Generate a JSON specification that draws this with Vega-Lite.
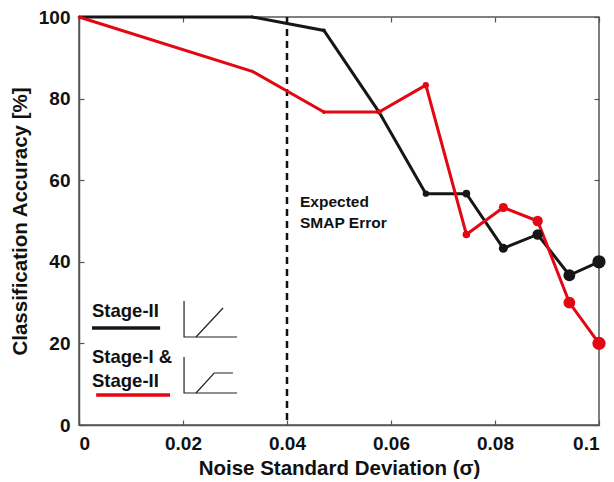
{
  "$schema": "https://vega.github.io/schema/vega-lite/v6.json",
  "width": 520,
  "height": 408,
  "autosize": {"type": "none"},
  "padding": {"left": 79, "top": 17, "right": 15, "bottom": 57},
  "background": "white",
  "config": {
    "view": {"stroke": "#555555", "strokeWidth": 1.5},
    "font": "Liberation Sans",
    "axis": {
      "labelFont": "Liberation Sans",
      "labelFontWeight": "bold",
      "labelFontSize": 19,
      "labelColor": "#111111",
      "titleFont": "Liberation Sans",
      "titleFontWeight": "bold",
      "titleFontSize": 20.5,
      "titleColor": "#111111",
      "domainColor": "#555555",
      "domainWidth": 1.5,
      "tickColor": "#555555",
      "tickWidth": 1.2,
      "tickSize": -5,
      "grid": false
    }
  },
  "datasets": {
    "series": [
      {"sigma": 0, "acc": 100, "series": "Stage-II"},
      {"sigma": 0.0333, "acc": 100, "series": "Stage-II"},
      {"sigma": 0.0471, "acc": 96.7, "series": "Stage-II"},
      {"sigma": 0.0577, "acc": 76.7, "series": "Stage-II"},
      {"sigma": 0.0667, "acc": 56.7, "series": "Stage-II"},
      {"sigma": 0.0745, "acc": 56.7, "series": "Stage-II"},
      {"sigma": 0.0816, "acc": 43.3, "series": "Stage-II"},
      {"sigma": 0.0882, "acc": 46.7, "series": "Stage-II"},
      {"sigma": 0.0943, "acc": 36.7, "series": "Stage-II"},
      {"sigma": 0.1, "acc": 40, "series": "Stage-II"},
      {"sigma": 0, "acc": 100, "series": "Stage-I & Stage-II"},
      {"sigma": 0.0333, "acc": 86.7, "series": "Stage-I & Stage-II"},
      {"sigma": 0.0471, "acc": 76.7, "series": "Stage-I & Stage-II"},
      {"sigma": 0.0577, "acc": 76.7, "series": "Stage-I & Stage-II"},
      {"sigma": 0.0667, "acc": 83.3, "series": "Stage-I & Stage-II"},
      {"sigma": 0.0745, "acc": 46.7, "series": "Stage-I & Stage-II"},
      {"sigma": 0.0816, "acc": 53.3, "series": "Stage-I & Stage-II"},
      {"sigma": 0.0882, "acc": 50, "series": "Stage-I & Stage-II"},
      {"sigma": 0.0943, "acc": 30, "series": "Stage-I & Stage-II"},
      {"sigma": 0.1, "acc": 20, "series": "Stage-I & Stage-II"}
    ],
    "notes": [
      {"x": 0.0425, "y": 53.4, "text": "Expected"},
      {"x": 0.0425, "y": 48.3, "text": "SMAP Error"}
    ],
    "legendText": [
      {"x": 0.0025, "y": 26.5, "text": "Stage-II"},
      {"x": 0.0025, "y": 15.2, "text": "Stage-I &"},
      {"x": 0.0025, "y": 9.3, "text": "Stage-II"}
    ],
    "legendLines": [
      {"x": 0.0025, "x2": 0.0156, "y": 23.8, "series": "Stage-II"},
      {"x": 0.0033, "x2": 0.0175, "y": 7.35, "series": "Stage-I & Stage-II"}
    ],
    "icons": [
      {"g": "a1", "o": 1, "x": 0.0202, "y": 30.4},
      {"g": "a1", "o": 2, "x": 0.0202, "y": 21.57},
      {"g": "a1", "o": 3, "x": 0.0304, "y": 21.57},
      {"g": "a2", "o": 1, "x": 0.0225, "y": 21.57},
      {"g": "a2", "o": 2, "x": 0.0277, "y": 28.68},
      {"g": "b1", "o": 1, "x": 0.0202, "y": 16.67},
      {"g": "b1", "o": 2, "x": 0.0202, "y": 7.84},
      {"g": "b1", "o": 3, "x": 0.0304, "y": 7.84},
      {"g": "b2", "o": 1, "x": 0.0225, "y": 7.84},
      {"g": "b2", "o": 2, "x": 0.026, "y": 12.75},
      {"g": "b2", "o": 3, "x": 0.0296, "y": 12.75}
    ],
    "vline": [{"x": 0.04}]
  },
  "resolve": {"scale": {"x": "shared", "y": "shared"}, "axis": {"x": "independent", "y": "independent"}},
  "layer": [
    {
      "data": {"name": "vline"},
      "mark": {"type": "rule", "color": "#111111", "strokeWidth": 2.5, "strokeDash": [7, 5]},
      "encoding": {
        "x": {"field": "x", "type": "quantitative", "scale": {"domain": [0, 0.1], "nice": false}, "axis": null}
      }
    },
    {
      "data": {"name": "series"},
      "mark": {"type": "line", "strokeWidth": 3},
      "encoding": {
        "x": {"field": "sigma", "type": "quantitative", "scale": {"domain": [0, 0.1], "nice": false},
              "axis": {"orient": "bottom", "values": [0, 0.02, 0.04, 0.06, 0.08, 0.1], "format": "~g", "labelPadding": 14, "title": "Noise Standard Deviation (σ)", "titlePadding": 5}},
        "y": {"field": "acc", "type": "quantitative", "scale": {"domain": [0, 100], "nice": false},
              "axis": {"orient": "left", "values": [0, 20, 40, 60, 80, 100], "labelPadding": 14, "title": "Classification Accuracy [%]", "titlePadding": 8}},
        "color": {"field": "series", "type": "nominal", "scale": {"domain": ["Stage-II", "Stage-I & Stage-II"], "range": ["#161616", "#e30613"]}, "legend": null},
        "order": {"field": "sigma", "type": "quantitative"},
        "detail": {"field": "series"}
      }
    },
    {
      "data": {"name": "series"},
      "mark": {"type": "point", "filled": true, "opacity": 1, "shape": "circle"},
      "encoding": {
        "x": {"field": "sigma", "type": "quantitative", "axis": null},
        "y": {"field": "acc", "type": "quantitative", "axis": null},
        "color": {"field": "series", "type": "nominal", "legend": null},
        "size": {"field": "sigma", "type": "quantitative", "scale": {"type": "pow", "exponent": 4, "domain": [0, 0.1], "range": [6, 175]}, "legend": null}
      }
    },
    {
      "data": {"name": "notes"},
      "mark": {"type": "text", "align": "left", "baseline": "alphabetic", "fontSize": 15.5, "fontWeight": "bold", "color": "#111111", "font": "Liberation Sans"},
      "encoding": {
        "x": {"field": "x", "type": "quantitative", "axis": null},
        "y": {"field": "y", "type": "quantitative", "axis": null},
        "text": {"field": "text"}
      }
    },
    {
      "data": {"name": "legendText"},
      "mark": {"type": "text", "align": "left", "baseline": "alphabetic", "fontSize": 18.5, "fontWeight": "bold", "color": "#111111", "font": "Liberation Sans"},
      "encoding": {
        "x": {"field": "x", "type": "quantitative", "axis": null},
        "y": {"field": "y", "type": "quantitative", "axis": null},
        "text": {"field": "text"}
      }
    },
    {
      "data": {"name": "legendLines"},
      "mark": {"type": "rule", "strokeWidth": 3.5},
      "encoding": {
        "x": {"field": "x", "type": "quantitative", "axis": null},
        "x2": {"field": "x2"},
        "y": {"field": "y", "type": "quantitative", "axis": null},
        "color": {"field": "series", "type": "nominal", "legend": null}
      }
    },
    {
      "data": {"name": "icons"},
      "mark": {"type": "line", "color": "#222222", "strokeWidth": 1.2},
      "encoding": {
        "x": {"field": "x", "type": "quantitative", "axis": null},
        "y": {"field": "y", "type": "quantitative", "axis": null},
        "detail": {"field": "g"},
        "order": {"field": "o", "type": "quantitative"}
      }
    },
    {
      "data": {"name": "vline"},
      "mark": {"type": "rule", "opacity": 0},
      "encoding": {
        "x": {"field": "x", "type": "quantitative", "axis": {"orient": "top", "values": [0, 0.02, 0.04, 0.06, 0.08, 0.1], "labels": false, "title": null, "domain": false}},
        "y": {"datum": 50, "type": "quantitative", "axis": {"orient": "right", "values": [0, 20, 40, 60, 80, 100], "labels": false, "title": null, "domain": false}}
      }
    }
  ]
}
